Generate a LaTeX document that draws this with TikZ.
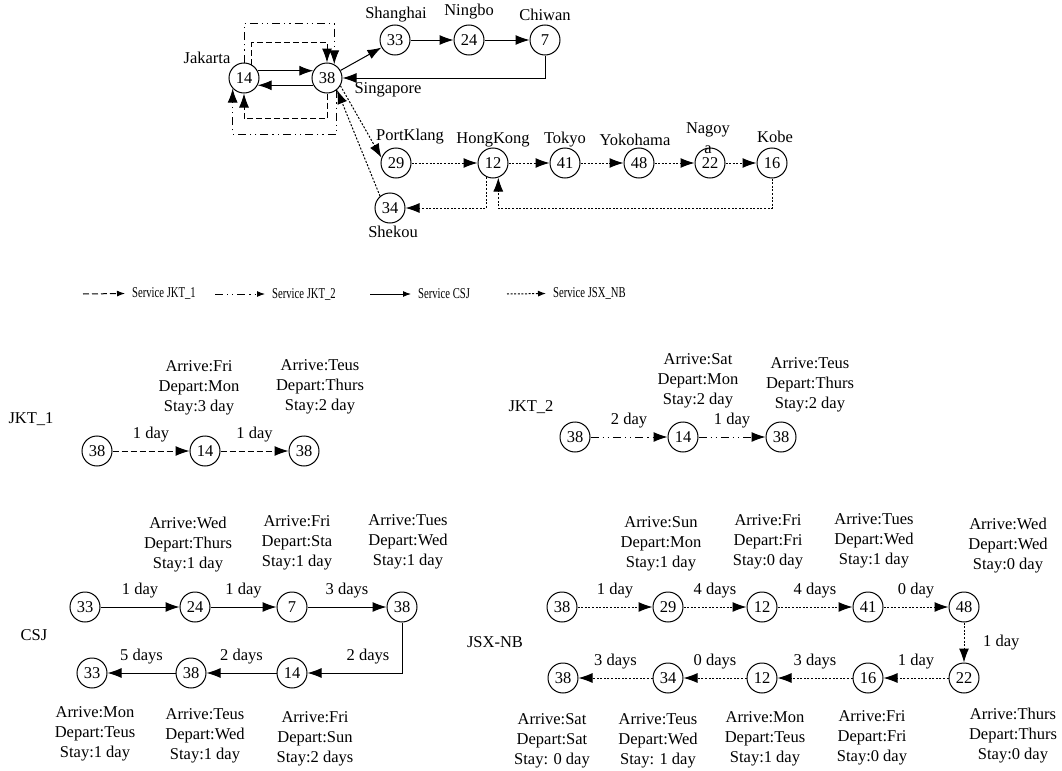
\documentclass[tikz,border=0pt]{standalone}
\usepackage{fontspec}
\setmainfont{Liberation Serif}
\usetikzlibrary{arrows.meta}

\tikzset{
  port/.style={circle, draw, minimum size=15pt, inner sep=0pt},
  jktone/.style={dash pattern=on 3pt off 1.5pt},
  jkttwo/.style={dash pattern=on 4pt off 2pt on 0.6pt off 2pt on 0.6pt off 2pt},
  csj/.style={solid},
  jsx/.style={dash pattern=on 1pt off 0.8pt},
  lbl/.style={above=1pt},
  info/.style={align=center},
  legend/.style={anchor=west, font=\fontsize{7.5}{9}\selectfont},
  small tip/.style={>={Latex[length=4pt,width=3pt]}}
}
\newcommand{\narrow}[1]{\scalebox{0.71}[1]{#1}}

\begin{document}
\begin{tikzpicture}[x=0.5pt, y=-0.5pt, line width=0.5pt,
  font=\fontsize{8.25}{10}\selectfont, >={Latex[length=7pt,width=5pt]}]
\useasboundingbox (0,0) rectangle (1062,771);

% network map
\node[port] (jk14) at (244,78) {14};
\node[port] (sg38) at (327,78) {38};
\node[port] (sh33) at (395,40) {33};
\node[port] (nb24) at (469,40) {24};
\node[port] (cw7) at (545,40) {7};
\node[port] (pk29) at (396,163) {29};
\node[port] (hk12) at (493,163) {12};
\node[port] (tk41) at (565,163) {41};
\node[port] (yk48) at (639,163) {48};
\node[port] (ng22) at (710,163) {22};
\node[port] (kb16) at (772,163) {16};
\node[port] (sk34) at (390,208) {34};

\node (jkt) at (207,58) {Jakarta};
\node (sgp) at (388,90) {Singapore};
\node (sha) at (396,15) {Shanghai};
\node (nin) at (469,12) {Ningbo};
\node (chi) at (545,15) {Chiwan};
\node (pkl) at (410,137) {PortKlang};
\node (hkg) at (493,140) {HongKong};
\node (tky) at (565,140) {Tokyo};
\node (ykh) at (635,140) {Yokohama};
\node[align=center] (ngy) at (708,138) {Nagoy\\a};
\node (kob) at (775,137) {Kobe};
\node (shk) at (393,232) {Shekou};

\draw[csj,->] (jk14.28) -- (sg38.152);
\draw[csj,->] (sg38.-152) -- (jk14.-28);
\draw[csj,->] (sg38) -- (sh33);
\draw[csj,->] (sh33) -- (nb24);
\draw[csj,->] (nb24) -- (cw7);
\draw[csj,->] (cw7.south) |- (sg38.east);

\draw[jktone,->] (jk14.60) -- ++(0,-22) -| (sg38.north);
\draw[jktone,->] (sg38.south) -- ++(0,25) -| (jk14.south);
\draw[jkttwo,->] (jk14.north) -- ++(0,-39) -| (sg38.62);
\draw[jkttwo,->] (sg38.-53) -- ++(0,44) -| (jk14.-137);

\draw[jsx,->] (sg38.-30) -- (pk29.160);
\draw[jsx,->] (pk29) -- (hk12);
\draw[jsx,->] (hk12) -- (tk41);
\draw[jsx,->] (tk41) -- (yk48);
\draw[jsx,->] (yk48) -- (ng22);
\draw[jsx,->] (ng22) -- (kb16);
\draw[jsx,->] (kb16.south) -- ++(0,30) -| (hk12.-70);
\draw[jsx,->] (hk12.-114) |- (sk34.east);
\draw[jsx,->] (sk34.130) -- (sg38.-50);

% legend
\coordinate (l1) at (83,294);
\coordinate (l2) at (215,294);
\coordinate (l3) at (370,294);
\coordinate (l4) at (507,294);
\node[legend] (t1) at (125,293) {\narrow{Service JKT\_1}};
\node[legend] (t2) at (265,294) {\narrow{Service JKT\_2}};
\node[legend] (t3) at (411,294) {\narrow{Service CSJ}};
\node[legend] (t4) at (546,293) {\narrow{Service JSX\_NB}};
\draw[jktone,small tip,->] (l1) -- (t1);
\draw[jkttwo,small tip,->] (l2) -- (t2);
\draw[csj,small tip,->] (l3) -- (t3);
\draw[jsx,small tip,->] (l4) -- (t4);

% JKT_1
\node (r1) at (31,419) {JKT\_1};
\node[port] (a1) at (97,451) {38};
\node[port] (a2) at (205,451) {14};
\node[port] (a3) at (304,451) {38};
\draw[jktone,->] (a1) -- node[lbl] {1 day} (a2);
\draw[jktone,->] (a2) -- node[lbl] {1 day} (a3);
\node[info] (ia2) at (199,388) {Arrive:Fri\\Depart:Mon\\Stay:3 day};
\node[info] (ia3) at (320,387) {Arrive:Teus\\Depart:Thurs\\Stay:2 day};

% JKT_2
\node (r2) at (531,407) {JKT\_2};
\node[port] (b1) at (575,437) {38};
\node[port] (b2) at (683,437) {14};
\node[port] (b3) at (781,437) {38};
\draw[jkttwo,->] (b1) -- node[lbl] {2 day} (b2);
\draw[jkttwo,->] (b2) -- node[lbl] {1 day} (b3);
\node[info] (ib2) at (698,381) {Arrive:Sat\\Depart:Mon\\Stay:2 day};
\node[info] (ib3) at (810,385) {Arrive:Teus\\Depart:Thurs\\Stay:2 day};

% CSJ
\node (r3) at (34,635) {CSJ};
\node[port] (c1) at (85,607) {33};
\node[port] (c2) at (195,607) {24};
\node[port] (c3) at (292,607) {7};
\node[port] (c4) at (402,607) {38};
\node[port] (c5) at (292,673) {14};
\node[port] (c6) at (191,673) {38};
\node[port] (c7) at (92,673) {33};
\draw[csj,->] (c1) -- node[lbl] {1 day} (c2);
\draw[csj,->] (c2) -- node[lbl] {1 day} (c3);
\draw[csj,->] (c3) -- node[lbl] {3 days} (c4);
\draw[csj,->] (c4) |- node[lbl,pos=0.68] {2 days} (c5);
\draw[csj,->] (c5) -- node[lbl] {2 days} (c6);
\draw[csj,->] (c6) -- node[lbl] {5 days} (c7);
\node[info] (ic2) at (188,545) {Arrive:Wed\\Depart:Thurs\\Stay:1 day};
\node[info] (ic3) at (297,543) {Arrive:Fri\\Depart:Sta\\Stay:1 day};
\node[info] (ic4) at (408,542) {Arrive:Tues\\Depart:Wed\\Stay:1 day};
\node[info] (ic7) at (95,734) {Arrive:Mon\\Depart:Teus\\Stay:1 day};
\node[info] (ic6) at (205,736) {Arrive:Teus\\Depart:Wed\\Stay:1 day};
\node[info] (ic5) at (315,739) {Arrive:Fri\\Depart:Sun\\Stay:2 days};

% JSX-NB
\node (r4) at (495,642) {JSX-NB};
\node[port] (d1) at (562,607) {38};
\node[port] (d2) at (668,607) {29};
\node[port] (d3) at (762,607) {12};
\node[port] (d4) at (868,607) {41};
\node[port] (d5) at (964,607) {48};
\node[port] (d6) at (964,678) {22};
\node[port] (d7) at (868,678) {16};
\node[port] (d8) at (762,678) {12};
\node[port] (d9) at (668,678) {34};
\node[port] (d10) at (563,678) {38};
\draw[jsx,->] (d1) -- node[lbl] {1 day} (d2);
\draw[jsx,->] (d2) -- node[lbl] {4 days} (d3);
\draw[jsx,->] (d3) -- node[lbl] {4 days} (d4);
\draw[jsx,->] (d4) -- node[lbl] {0 day} (d5);
\draw[jsx,->] (d5) -- node[right=6pt] {1 day} (d6);
\draw[jsx,->] (d6) -- node[lbl] {1 day} (d7);
\draw[jsx,->] (d7) -- node[lbl] {3 days} (d8);
\draw[jsx,->] (d8) -- node[lbl] {0 days} (d9);
\draw[jsx,->] (d9) -- node[lbl] {3 days} (d10);
\node[info] (id2) at (661,544) {Arrive:Sun\\Depart:Mon\\Stay:1 day};
\node[info] (id3) at (768,542) {Arrive:Fri\\Depart:Fri\\Stay:0 day};
\node[info] (id4) at (874,541) {Arrive:Tues\\Depart:Wed\\Stay:1 day};
\node[info] (id5) at (1008,546) {Arrive:Wed\\Depart:Wed\\Stay:0 day};
\node[info] (id10) at (552,741) {Arrive:Sat\\Depart:Sat\\Stay: 0 day};
\node[info] (id9) at (658,741) {Arrive:Teus\\Depart:Wed\\Stay: 1 day};
\node[info] (id8) at (765,739) {Arrive:Mon\\Depart:Teus\\Stay:1 day};
\node[info] (id7) at (872,738) {Arrive:Fri\\Depart:Fri\\Stay:0 day};
\node[info] (id6) at (1013,736) {Arrive:Thurs\\Depart:Thurs\\Stay:0 day};

\end{tikzpicture}
\end{document}
